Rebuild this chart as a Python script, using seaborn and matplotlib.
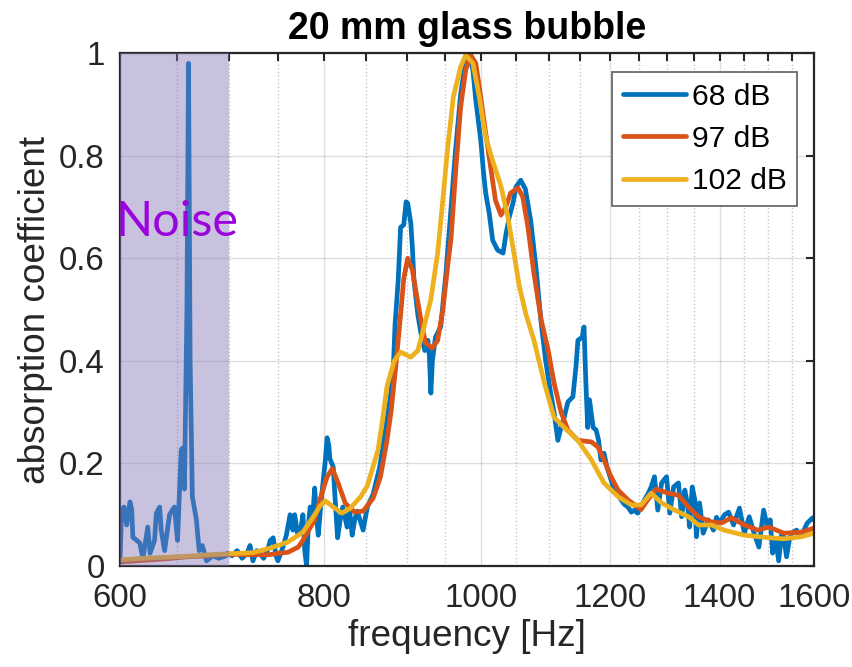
import numpy as np
import pandas as pd
import matplotlib
matplotlib.use("Agg")
import matplotlib.pyplot as plt
import seaborn as sns
from matplotlib.ticker import FixedLocator, NullFormatter

# ---------------- data ----------------
f_68 = [600, 601.4, 603.5, 605.7, 608.5, 610, 611, 614.2, 617, 619.7, 624, 626, 630, 631.6,
        634.6, 636, 639, 643.5, 646.2, 648, 650.8, 654.2, 655.4, 657.2, 659.5, 661, 662.5,
        664.6, 668.4, 671, 674, 678, 681, 684, 690, 697,
        698, 703, 708, 713, 718, 721, 724, 728, 731, 735, 739, 742, 745, 748, 750, 755, 759,
        763, 766, 768, 771, 774, 777, 779, 781, 783, 785, 788, 790, 792, 794, 796, 798, 802,
        804, 806, 807, 811, 813, 816, 819, 822, 827, 830, 833, 836, 839, 846, 851, 858, 866,
        875, 880, 883, 885, 889, 892, 896, 899, 901, 905, 907, 909, 914, 918, 923, 927, 929,
        931, 933, 937, 944, 951, 958, 964, 971, 978, 983, 988, 992, 999, 1003, 1006, 1011,
        1016, 1023, 1031, 1035, 1040, 1046, 1050, 1057, 1064, 1072, 1080, 1088, 1095, 1103,
        1108, 1114, 1119, 1124, 1130, 1138, 1143, 1146, 1153, 1156, 1159, 1162, 1165, 1171,
        1176, 1180, 1184, 1189, 1194, 1201, 1206, 1212, 1218, 1224, 1230, 1236, 1241, 1247,
        1253, 1259, 1265, 1271, 1277, 1283, 1290, 1299, 1305, 1312, 1321, 1327, 1333, 1338,
        1342, 1347, 1352, 1355, 1361, 1368, 1378, 1388, 1394, 1400, 1410, 1418, 1428, 1440,
        1450, 1460, 1470, 1480, 1490, 1498, 1504, 1509, 1516, 1522, 1528, 1533, 1539, 1545,
        1550, 1561, 1568, 1574, 1585, 1597, 1600]
a_68 = [0.01, 0.11, 0.115, 0.08, 0.125, 0.11, 0.056, 0.05, 0.045, 0.015, 0.076, 0.025, 0.05, 0.103,
        0.115, 0.07, 0.03, 0.10, 0.11, 0.115, 0.05, 0.226, 0.23, 0.15, 0.5, 0.98, 0.4,
        0.135, 0.09, 0.03, 0.04, 0.01, 0.015, 0.02, 0.015, 0.02,
        0.025, 0.02, 0.03, 0.015, 0.025, 0.04, 0.01, 0.03, 0.025, 0.015, 0.03, 0.05, 0.055, 0.02, 0.01, 0.035, 0.06,
        0.10, 0.07, 0.10, 0.064, 0.064, 0.10, 0.03, 0.0, 0.08, 0.115, 0.10, 0.152, 0.10, 0.06, 0.10, 0.14, 0.206,
        0.25, 0.235, 0.21, 0.193, 0.135, 0.055, 0.09, 0.115, 0.076, 0.11, 0.06, 0.09, 0.107, 0.07, 0.115, 0.14, 0.193,
        0.285, 0.34, 0.39, 0.47, 0.557, 0.66, 0.665, 0.71, 0.707, 0.668, 0.62, 0.557, 0.49, 0.454, 0.42, 0.44, 0.41,
        0.337, 0.40, 0.446, 0.466, 0.57, 0.70, 0.81, 0.92, 0.986, 0.996, 0.967, 0.908, 0.83, 0.766, 0.727, 0.688,
        0.635, 0.616, 0.61, 0.645, 0.68, 0.71, 0.739, 0.752, 0.735, 0.674, 0.583, 0.474, 0.40, 0.335,
        0.30, 0.245, 0.27, 0.29, 0.32, 0.33, 0.39, 0.44, 0.446, 0.466, 0.357, 0.27, 0.324, 0.27,
        0.265, 0.245, 0.207, 0.22, 0.193, 0.168, 0.148, 0.14, 0.129, 0.12, 0.115, 0.105, 0.109, 0.103,
        0.115, 0.129, 0.14, 0.154, 0.174, 0.109, 0.162, 0.174, 0.103, 0.154, 0.162, 0.096, 0.148, 0.12,
        0.076, 0.154, 0.129, 0.057, 0.123, 0.064, 0.09, 0.07, 0.095, 0.084, 0.10, 0.105, 0.08, 0.113,
        0.064, 0.096, 0.064, 0.037, 0.109, 0.076, 0.09, 0.025, 0.05, 0.01, 0.06, 0.057, 0.018, 0.05,
        0.064, 0.07, 0.06, 0.064, 0.084, 0.094, 0.09]

f_97 = [600, 620, 640, 660, 680, 700, 720, 740, 761, 772, 777, 790, 796, 804, 810, 817, 825, 836,
        846, 858, 867, 875, 880, 886, 892, 896, 901, 907, 911, 918, 924, 933, 940, 947, 953, 958,
        964, 971, 978, 985, 992, 999, 1006, 1013, 1020, 1028, 1035, 1042, 1053, 1060, 1068, 1077,
        1088, 1099, 1108, 1119, 1130, 1146, 1168, 1179, 1189, 1201, 1213, 1230, 1253, 1265, 1280,
        1302, 1321, 1340, 1359, 1384, 1404, 1424, 1450, 1478, 1501, 1533, 1572, 1600]
a_97 = [0.008, 0.011, 0.014, 0.018, 0.02, 0.023, 0.022, 0.022, 0.027, 0.037, 0.05, 0.09, 0.13, 0.174, 0.19, 0.16, 0.122, 0.105,
        0.107, 0.132, 0.174, 0.245, 0.30, 0.39, 0.49, 0.56, 0.60, 0.577, 0.54, 0.48, 0.435, 0.425, 0.44, 0.50, 0.58, 0.64,
        0.766, 0.895, 0.967, 0.996, 0.98, 0.914, 0.844, 0.778, 0.713, 0.684, 0.70, 0.727, 0.737, 0.72, 0.66, 0.57,
        0.48, 0.42, 0.357, 0.30, 0.265, 0.245, 0.242, 0.232, 0.207, 0.174, 0.148, 0.129, 0.11, 0.129, 0.15,
        0.142, 0.138, 0.115, 0.096, 0.086, 0.084, 0.094, 0.08, 0.07, 0.076, 0.064, 0.066, 0.074]

f_102 = [600, 620, 640, 660, 680, 700, 724, 742, 761, 777, 790, 796, 802, 811, 821, 831, 843, 851,
         864, 870, 875, 884, 892, 905, 914, 920, 931, 940, 946, 953, 961, 971, 978, 988, 997, 1006,
         1016, 1028, 1038, 1047, 1055, 1065, 1077, 1093, 1108, 1124, 1146, 1168, 1189, 1213, 1236,
         1253, 1271, 1290, 1314, 1340, 1359, 1384, 1409, 1450, 1492, 1533, 1572, 1600]
a_102 = [0.012, 0.015, 0.017, 0.019, 0.022, 0.024, 0.026, 0.035, 0.047, 0.066, 0.10, 0.117, 0.127, 0.115, 0.103, 0.113, 0.135, 0.156,
         0.226, 0.29, 0.35, 0.40, 0.417, 0.407, 0.42, 0.454, 0.52, 0.61, 0.70, 0.81, 0.914, 0.973, 0.996, 0.98, 0.914, 0.836,
         0.79, 0.74, 0.68, 0.61, 0.545, 0.49, 0.44, 0.357, 0.29, 0.27, 0.245, 0.207, 0.162, 0.135, 0.119,
         0.119, 0.142, 0.123, 0.109, 0.096, 0.08, 0.08, 0.07, 0.06, 0.056, 0.053, 0.057, 0.064]

levels = ["68 dB", "97 dB", "102 dB"]
colors = ["#0072BD", "#D95319", "#EDB120"]
xticks = [600, 800, 1000, 1200, 1400, 1600]
xminor = [650, 700, 750, 850, 900, 950, 1050, 1100, 1150, 1250, 1300, 1350, 1450, 1500, 1550]
yticks = [0, 0.2, 0.4, 0.6, 0.8, 1.0]
ytick_labels = ["0", "0.2", "0.4", "0.6", "0.8", "1"]
noise_band = (600, 700)

df = pd.concat([
    pd.DataFrame({"frequency": f_68, "alpha": a_68, "level": levels[0]}),
    pd.DataFrame({"frequency": f_97, "alpha": a_97, "level": levels[1]}),
    pd.DataFrame({"frequency": f_102, "alpha": a_102, "level": levels[2]}),
], ignore_index=True)

# ---------------- plot ----------------
sns.set_theme(style="white")
plt.rcParams["font.family"] = ["Liberation Sans", "DejaVu Sans"]
axc = "#262626"
lw = 3.4

fig = plt.figure(figsize=(8.53, 6.67), dpi=100)
ax = fig.add_axes([0.1407, 0.1514, 0.8136, 0.7691])

sns.lineplot(data=df, x="frequency", y="alpha", hue="level", hue_order=levels,
             palette=colors, linewidth=lw, estimator=None, sort=False, ax=ax, legend=True)

ax.set_xscale("log")
ax.set_xlim(600, 1600)
ax.set_ylim(0, 1)
ax.set_xticks(xticks)
ax.set_xticklabels([str(t) for t in xticks])
ax.xaxis.set_minor_locator(FixedLocator(xminor))
ax.xaxis.set_minor_formatter(NullFormatter())
ax.set_yticks(yticks)
ax.set_yticklabels(ytick_labels)

ax.set_axisbelow(True)
ax.grid(which="major", color=axc, alpha=0.15, linewidth=1)
ax.grid(which="minor", axis="x", color=axc, alpha=0.25, linestyle=":", linewidth=1)

ax.tick_params(which="both", direction="in", top=True, right=True, length=6, width=1.5,
               color=axc, labelcolor=axc, labelsize=23.8)
ax.tick_params(axis="x", pad=12)
ax.tick_params(axis="y", pad=11)
for s in ax.spines.values():
    s.set_color(axc)
    s.set_linewidth(1.6)

ax.axvspan(noise_band[0], noise_band[1], color=(132/255, 118/255, 184/255), alpha=0.44,
           lw=0, zorder=5)
ax.text(596, 0.67, "Noise", color="#9a05dc", fontsize=35, family=["Lato", "DejaVu Sans"],
        fontweight="normal", ha="left", va="center", zorder=6)

ax.set_title("20 mm glass bubble", fontsize=27, fontweight="bold", color="black", pad=10)
ax.set_xlabel("frequency [Hz]", fontsize=26.6, color=axc, labelpad=4)
ax.set_ylabel("absorption coefficient", fontsize=26.6, color=axc, labelpad=4)

handles, labels = ax.get_legend_handles_labels()
leg = ax.legend(handles, labels, loc="upper right", bbox_to_anchor=(0.9755, 0.963),
                borderaxespad=0, fontsize=21.6, frameon=True, fancybox=False,
                edgecolor="#6a6a6a", framealpha=1, handlelength=2.1, handletextpad=0.2,
                labelspacing=0.48, borderpad=0.35)
leg.get_frame().set_linewidth(1.3)
for line in leg.get_lines():
    line.set_linewidth(lw)
for t in leg.get_texts():
    t.set_color("black")

fig.savefig("out.png", dpi=100)
